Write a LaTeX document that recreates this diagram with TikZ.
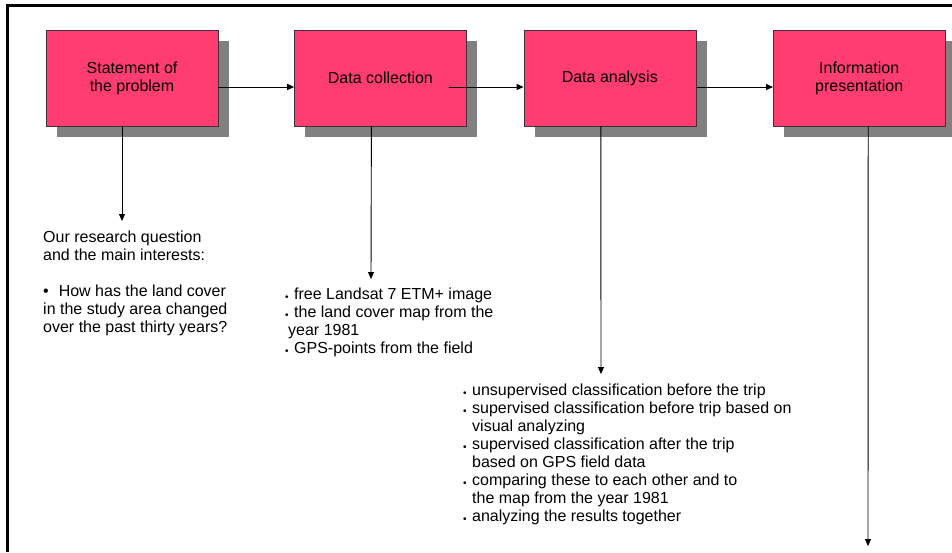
\documentclass[tikz,border=0pt]{standalone}
\usepackage{fontspec}
\setmainfont{Liberation Sans}
\usetikzlibrary{positioning,arrows.meta,shadows}
\definecolor{boxpink}{RGB}{255,61,112}
\definecolor{boxline}{RGB}{64,48,56}
\definecolor{shade}{RGB}{128,128,128}
\newcommand{\dotitem}{\makebox[9pt][l]{\raisebox{-1pt}{\fontsize{10}{10}\selectfont\textbullet}}}

\begin{document}
\begin{tikzpicture}[x=1pt,y=-1pt,font=\fontsize{16}{18}\selectfont,
  stage/.style={draw=boxline,fill=boxpink,minimum width=172pt,minimum height=96pt,align=center,
    drop shadow={shadow xshift=11pt,shadow yshift=-11pt,fill=shade,opacity=1}},
  flow/.style={-{Triangle[length=7pt,width=6pt]},line width=0.9pt},
  notes/.style={align=left,inner sep=0pt,anchor=base west}]
\useasboundingbox (0,0) rectangle (952,552);
\draw[line width=2.6pt] (7.5,552) -- (7.5,5.3) -- (952,5.3); % frame

% the four stages
\node[stage] (sp) at (132,78) {Statement of\\the problem};
\node[stage,right=76pt of sp] (dc) {Data collection};
\node[stage,right=57pt of dc] (da) {Data analysis};
\node[stage,right=77pt of da] (ip) {Information\\presentation};

% notes below (anchored at the baseline of their last line)
\node[notes] (rq) at (43,332) {Our research question\\and the main interests:\\[18pt]
  \textbullet\hspace{10pt}How has the land cover\\in the study area changed\\over the past thirty years?};
\node[notes] (src) at (285,353) {\dotitem free Landsat 7 ETM+ image\\
  \dotitem the land cover map from the\\\hspace*{3pt}year 1981\\
  \dotitem GPS-points from the field};
\node[notes] (steps) at (463,521) {\dotitem unsupervised classification before the trip\\
  \dotitem supervised classification before trip based on\\\hspace*{9pt}visual analyzing\\
  \dotitem supervised classification after the trip\\\hspace*{9pt}based on GPS field data\\
  \dotitem comparing these to each other and to\\\hspace*{9pt}the map from the year 1981\\
  \dotitem analyzing the results together};

\coordinate (q1) at (122,221);
\coordinate (q2) at (371,279);
\coordinate (q3) at (601,374);
\coordinate (q4) at (868,546);

% connectors
\draw[flow] ([yshift=-9pt]sp.east) -- ([yshift=-9pt]dc.west);
\draw[flow] ([xshift=-18pt,yshift=-9pt]dc.east) -- ([yshift=-9pt]da.west);
\draw[flow] ([yshift=-9pt]da.east) -- ([yshift=-9pt]ip.west);
\draw[flow] ([xshift=-10pt]sp.south) -- (q1);
\draw[flow] ([xshift=-9pt]dc.south) -- (q2);
\draw[flow] ([xshift=-9pt]da.south) -- (q3);
\draw[flow] ([xshift=9pt]ip.south) -- (q4);
\end{tikzpicture}
\end{document}
